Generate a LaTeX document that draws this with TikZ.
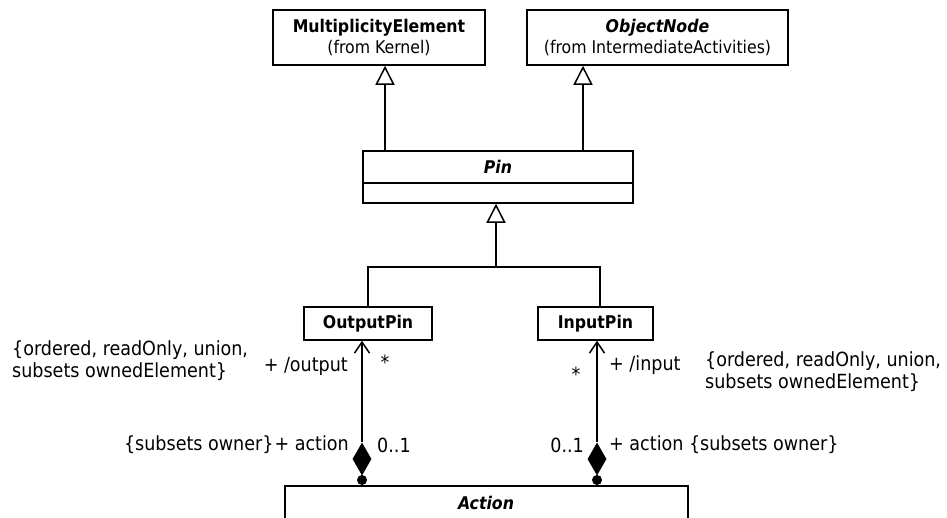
\documentclass[tikz,border=0pt]{standalone}
\usepackage{fontspec}
\setmainfont{DejaVu Sans Condensed}
\usetikzlibrary{arrows.meta,shapes.geometric}
\begin{document}
\begin{tikzpicture}[x=1pt,y=-1pt,
  every node/.style={inner sep=0pt},
  cfont/.style={font=\fontsize{17.5}{21.5}\selectfont},
  lfont/.style={font=\fontsize{19.5}{22}\selectfont},
  cls/.style={draw, line width=1.5pt, align=center, cfont},
  gen/.style={line width=1.5pt, -{Triangle[open, length=19pt, width=19pt, line width=1.5pt]}},
  assoc/.style={line width=1.5pt, -{Straight Barb[length=11pt, width=15pt, line width=1.5pt]}},
  line/.style={line width=1.5pt},
  dia/.style={diamond, fill=black, minimum width=19pt, minimum height=33pt, inner sep=0pt},
  dot/.style={circle, fill=black, minimum size=10pt, inner sep=0pt},
  lbl/.style={align=left, lfont}
]
\clip (0,0) rectangle (947,517);
\fill[white] (0,0) rectangle (947,517);

% classes
\node[cls, minimum width=212pt, minimum height=55pt] (me) at (379,37.5)
  {\textbf{MultiplicityElement}\\(from Kernel)};
\node[cls, minimum width=261pt, minimum height=55pt] (on) at (657.5,37.5)
  {\textbf{\textit{ObjectNode}}\\(from IntermediateActivities)};
\node[cls, minimum width=270pt, minimum height=52pt] (pin) at (498,177) {};
\node[cfont] (pinname) at (498,167) {\textbf{\textit{Pin}}};
\draw[line] (pin.west |- 0,183) -- (pin.east |- 0,183);
\node[cls, minimum width=128pt, minimum height=33pt] (out) at (368,323.5) {\textbf{OutputPin}};
\node[cls, minimum width=115pt, minimum height=33pt] (in) at (595.5,323.5) {\textbf{InputPin}};
\node[cls, minimum width=403pt, minimum height=80pt, anchor=north] (act) at (486.5,485) {};
\node[cfont] (actname) at (486,503) {\textbf{\textit{Action}}};

% generalizations
\draw[gen] ([xshift=6pt]me.south |- pin.north) -- ([xshift=6pt]me.south);
\draw[gen] ([xshift=-74.5pt]on.south |- pin.north) -- ([xshift=-74.5pt]on.south);
\coordinate (j) at (496,267);
\draw[gen] (j) -- (j |- pin.south);
\draw[line] (out.north) |- (j) -| ([xshift=4.5pt]in.north);

% compositions
\node[dia] (d1) at (362,459) {};
\node[dot] (c1) at (362,480) {};
\node[dia] (d2) at (597,459) {};
\node[dot] (c2) at (597,480) {};
\draw[line] (d1.south) -- (c1.north);
\draw[line] (d2.south) -- (c2.north);
\draw[assoc] (d1.north) -- (d1.north |- out.south);
\draw[assoc] (d2.north) -- (d2.north |- in.south);

% labels left
\node[lbl, anchor=west] (lc) at (12,361) {\{ordered, readOnly, union,\\subsets ownedElement\}};
\node[lfont, anchor=east] (lo) at (348,366) {+ /output};
\node[lfont] (ls) at (385,362) {*};
\node[lfont, anchor=east] (la) at (349,445) {\{subsets owner\}\hspace{1pt}+ action};
\node[lfont, anchor=west] (lm) at (377,445) {0..1};
% labels right
\node[lfont] (rs) at (576,374) {*};
\node[lfont, anchor=west] (ri) at (609,365) {+ /input};
\node[lbl, anchor=west] (rc) at (705,372) {\{ordered, readOnly, union,\\subsets ownedElement\}};
\node[lfont, anchor=east] (rm) at (584,445) {0..1};
\node[lfont, anchor=west] (ra) at (609,445) {+ action \{subsets owner\}};
\end{tikzpicture}
\end{document}
